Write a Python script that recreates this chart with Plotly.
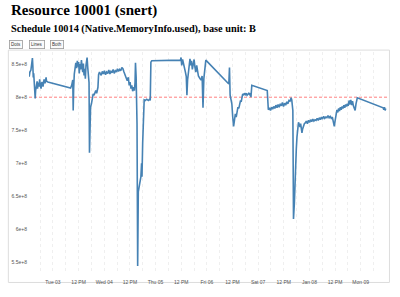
import pandas as pd
import plotly.graph_objects as go

# ---- data (hours since 2017-01-03 00:00, memory used in millions of bytes) ----
base_time = "2017-01-03 00:00"
hours = [
    -11.1, -10.8, -10.3, -9.9, -9.6, -9.4, -9.2, -9.0, -8.7, -8.5, -8.3, -8.1, -7.8, -7.4, -7.2,
    -6.9, -6.5, -6.2, -6.0, -5.55, -5.35, -5.05, -4.65, -4.35, -4.15, -3.7, -3.2, -3.0, -2.4,
    8.26, 8.77, 9.28, 9.48, 9.68, 9.99, 10.39, 10.70, 11.10, 11.41, 11.71, 12.02, 12.32, 12.63,
    12.93, 13.34, 13.64, 13.95, 14.25, 14.56, 14.86, 15.17, 15.47, 15.78, 15.98, 16.28, 16.59,
    16.89, 17.10, 17.30, 17.60, 18.01, 18.42, 18.82, 19.23, 19.63, 20.04, 20.45, 21.06, 21.36,
    21.77, 22.07, 22.58, 23.09, 23.60, 24.10, 24.61, 25.12, 25.63, 26.13, 26.64, 27.15, 27.66,
    28.17, 28.67, 29.18, 29.69, 30.20, 30.70, 31.21, 31.72, 32.23, 32.73, 33.24, 33.75, 34.26,
    34.77, 35.27, 35.68, 36.09, 36.49, 36.90, 37.30, 37.71, 38.12, 38.42, 38.62, 38.93, 39.34,
    39.64, 39.94, 40.35, 40.76, 41.16, 41.47, 41.67, 41.98, 42.38, 42.69, 43.19, 43.90, 44.62,
    45.23, 45.53, 45.83, 46.24,
    59.65, 59.95, 60.25, 60.66, 61.07, 61.47, 61.98, 62.39, 62.69, 63.00, 63.40, 63.71, 64.11,
    64.52, 64.82, 65.23, 65.64, 66.04, 66.45, 66.86, 67.26, 67.67, 68.07, 68.79, 69.29, 69.80,
    70.21, 70.61, 71.22, 71.53,
    82.29, 82.60, 82.90, 83.31, 83.71, 84.12, 84.53, 84.93, 85.34, 85.74, 86.15, 86.56, 86.96,
    87.37, 87.77, 88.08, 88.38, 88.79, 89.20, 89.60, 90.01, 90.42, 90.82, 91.23, 91.63, 92.04,
    92.45, 92.65, 92.85, 93.05,
    100.27, 100.47, 100.78, 101.28, 101.79, 102.30, 102.81, 103.31, 103.82, 104.33, 104.84,
    105.34, 105.85, 106.36, 106.87, 107.37, 107.88, 108.39, 108.90, 109.41, 109.91, 110.42,
    110.93, 111.44, 111.74, 112.25, 112.55, 112.96, 113.26, 113.57, 113.87, 114.18, 114.48,
    114.89, 115.30, 115.60, 115.90, 116.21, 116.51, 116.82, 117.22, 117.63, 118.04, 118.54,
    119.05, 119.56, 120.07, 120.58, 121.09, 121.59, 122.10, 122.61, 123.12, 123.62, 124.13,
    124.64, 125.15, 125.65, 126.16, 126.67, 127.18, 127.68, 128.19, 128.70, 129.21, 129.72,
    130.22, 130.73, 131.24, 131.64, 132.05, 132.46, 132.87, 133.27, 133.68, 134.08, 134.49,
    134.89, 135.30, 135.71, 136.11, 136.52, 136.93, 137.33, 137.74, 138.14, 138.55, 138.96,
    139.36, 139.77, 140.17, 140.58, 140.99, 141.39, 141.80, 142.41,
    154.49, 154.80, 155.10, 155.41, 155.71,
]
used_millions = [
    831, 838, 841, 853, 859, 847, 830, 836, 820, 804, 798, 810, 819, 824, 813,
    822, 816, 827, 819, 813, 821, 823, 816, 823, 827, 821, 830, 824, 823,
    814, 818, 826, 780, 812, 835, 849, 852, 844, 855, 846, 853, 836, 850,
    842, 856, 845, 838, 851, 833, 843, 828, 848, 857, 860, 845, 830,
    822, 716, 770, 785, 790, 796, 805, 803, 808, 810, 806, 815, 834,
    838, 836, 833, 839, 835, 840, 834, 838, 836, 841, 835, 839, 837,
    842, 836, 840, 838, 843, 839, 842, 840, 845, 843, 838, 833, 829,
    825, 830, 818, 823, 813, 818, 809, 815, 810, 822, 852, 830, 760,
    545, 657, 665, 672, 680, 700, 680, 730, 790, 796, 795, 797, 795,
    797, 795, 853, 855,
    856, 860, 848, 857, 852, 845, 838, 831, 803, 826, 840, 852, 858,
    848, 855, 842, 850, 857, 845, 838, 848, 835, 832, 828, 826, 832,
    784, 828, 850, 856,
    820, 845, 803, 798, 790, 770, 756, 765, 775, 770, 779, 785, 783,
    790, 795, 793, 800, 805, 803, 806, 804, 806, 803, 805, 806, 804,
    806, 800, 815, 818,
    810, 790, 781, 784, 780, 785, 782, 786, 783, 788, 784,
    789, 785, 790, 787, 792, 786, 791, 788, 793, 790, 795,
    794, 799, 796, 780, 616, 640, 680, 700, 722, 740, 755,
    762, 758, 755, 760, 750, 746, 752, 758, 760, 761, 764,
    760, 765, 762, 766, 763, 767, 764, 766, 765, 768, 765,
    769, 766, 770, 767, 771, 768, 770, 769, 772, 769, 771,
    768, 770, 762, 756, 765, 775, 781, 777, 783, 779, 785,
    781, 786, 783, 788, 784, 789, 786, 790, 787, 795, 789,
    796, 788, 794, 787, 784, 780, 790, 799,
    784, 781, 785, 780, 783,
]
threshold = 8e8

tick_times = ["2017-01-03 00:00", "2017-01-03 12:00", "2017-01-04 00:00", "2017-01-04 12:00",
              "2017-01-05 00:00", "2017-01-05 12:00", "2017-01-06 00:00", "2017-01-06 12:00",
              "2017-01-07 00:00", "2017-01-07 12:00", "2017-01-08 00:00", "2017-01-08 12:00",
              "2017-01-09 00:00"]
tick_labels = ["Tue 03", "12 PM", "Wed 04", "12 PM", "Thu 05", "12 PM", "Fri 06", "12 PM",
               "Sat 07", "12 PM", "Jan 08", "12 PM", "Mon 09"]

title_text = "Resource 10001 (snert)"
subtitle_text = "Schedule 10014 (Native.MemoryInfo.used), base unit: B"
button_labels = ["Dots", "Lines", "Both"]

# ---- build ----
times = pd.Timestamp(base_time) + pd.to_timedelta(hours, unit="h")
values = [v * 1e6 for v in used_millions]

W, H = 400, 297
L, R, T, B = 23, 13, 52, 16
pw, ph = W - L - R, H - T - B


def px(xp):
    return (xp - L) / pw


def py(yp):
    return (H - B - yp) / ph


fig = go.Figure()
fig.add_trace(go.Scatter(x=times, y=values, mode="lines",
                         line=dict(color="#4682b4", width=1.6), hoverinfo="skip"))

fig.add_shape(type="line", xref="paper", x0=0, x1=1, yref="y", y0=threshold, y1=threshold,
              line=dict(color="#ff7f7f", width=1, dash="3px,2px"), layer="below")

# outer frame
fig.add_shape(type="rect", xref="paper", yref="paper", x0=px(2), x1=px(389.5),
              y0=py(293), y1=py(50), line=dict(color="#dddddd", width=1), layer="below")

serif = "Liberation Serif, Times New Roman, serif"
fig.add_annotation(text="<b>" + title_text + "</b>", xref="paper", yref="paper",
                   x=px(2.5), y=py(8.5), xanchor="left", yanchor="middle", showarrow=False,
                   font=dict(family=serif, size=15, color="black"))
fig.add_annotation(text="<b>" + subtitle_text + "</b>", xref="paper", yref="paper",
                   x=px(2.5), y=py(27.5), xanchor="left", yanchor="middle", showarrow=False,
                   font=dict(family=serif, size=10.3, color="black"))

btn_x = [3, 23, 44]
for bx, lab in zip(btn_x, button_labels):
    fig.add_annotation(text=lab, xref="paper", yref="paper", x=px(bx), y=py(44.5),
                       xanchor="left", yanchor="middle", showarrow=False,
                       font=dict(family="Liberation Sans, Arial, sans-serif", size=4.5, color="#333"),
                       bordercolor="#999", borderwidth=0.8, borderpad=1.3, bgcolor="#fafafa")

x_start = pd.Timestamp(base_time) + pd.Timedelta(hours=-11.2)
x_end = pd.Timestamp(base_time) + pd.Timedelta(hours=156.3)

tickfont = dict(family="Liberation Sans, Arial, sans-serif", size=5, color="#555")
grid_col = "#efefef"
fig.update_xaxes(range=[x_start, x_end], tickmode="array", tickvals=tick_times,
                 ticktext=tick_labels, tickfont=tickfont, showgrid=True,
                 gridcolor=grid_col, griddash="dot", gridwidth=1, zeroline=False,
                 showline=False, ticks="", ticklabelstandoff=7,
                 minor=dict(dtick=6 * 3600 * 1000, tick0=base_time, showgrid=True,
                            gridcolor=grid_col, griddash="dot", gridwidth=1))
fig.update_yaxes(range=[537.4e6, 868.3e6], tickmode="linear", tick0=5.5e8, dtick=0.5e8,
                 tickformat="~e", tickfont=tickfont, showgrid=False, zeroline=False,
                 showline=False, ticks="", ticklabelstandoff=1)

fig.update_layout(width=W, height=H, margin=dict(l=L, r=R, t=T, b=B),
                  paper_bgcolor="white", plot_bgcolor="white", showlegend=False)

fig.write_html("out.html")
